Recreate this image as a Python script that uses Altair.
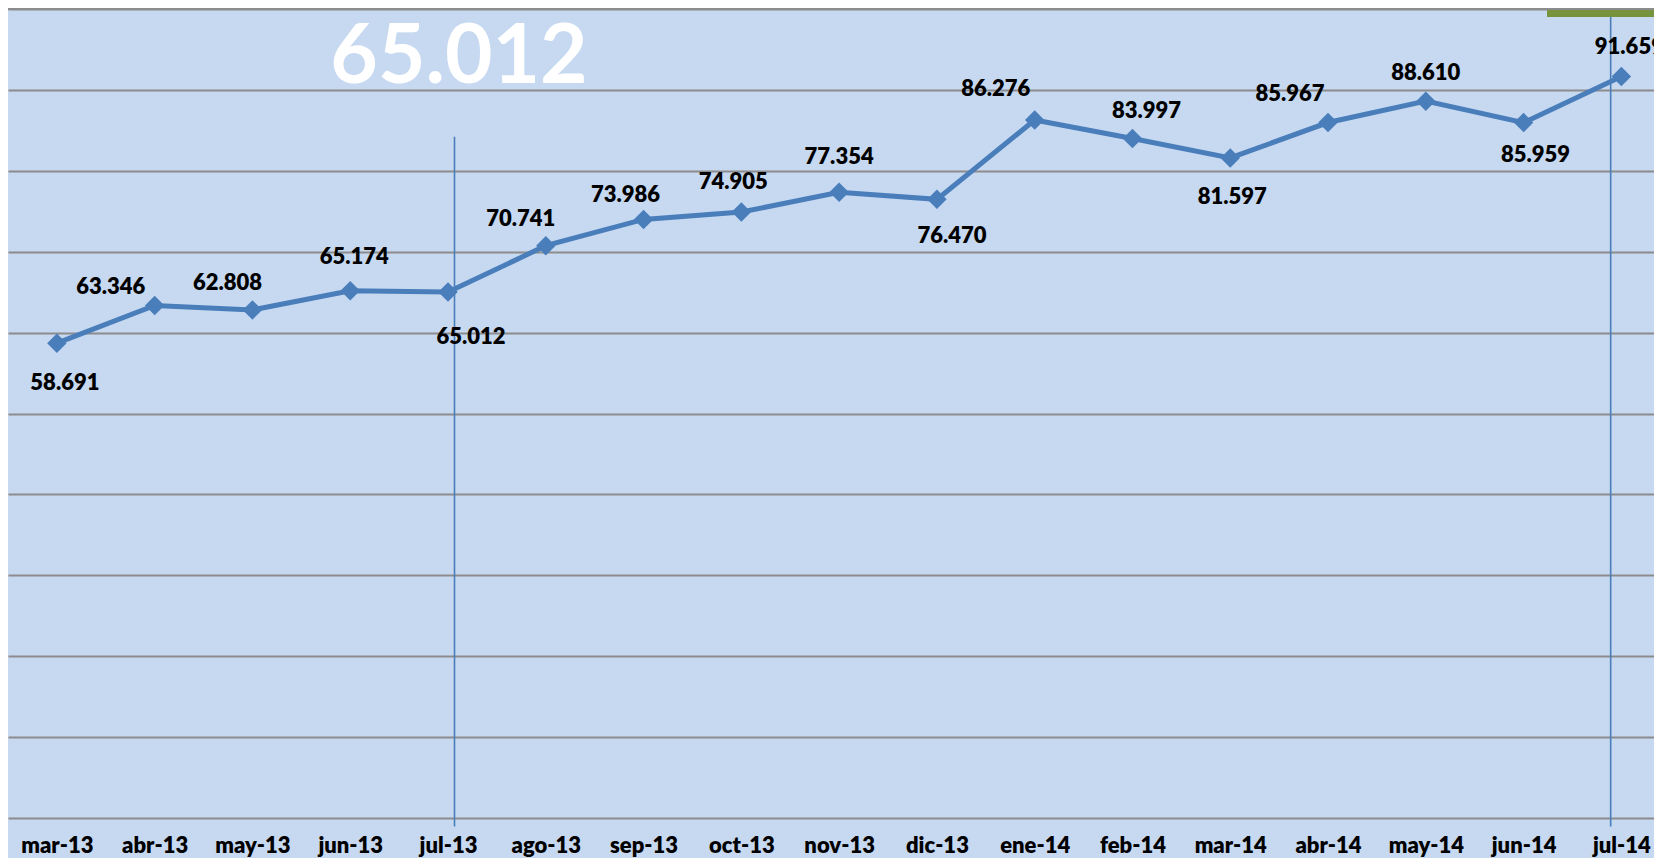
import json
import altair as alt
import pandas as pd

# ---- data ----
months = ["mar-13", "abr-13", "may-13", "jun-13", "jul-13", "ago-13", "sep-13",
          "oct-13", "nov-13", "dic-13", "ene-14", "feb-14", "mar-14", "abr-14",
          "may-14", "jun-14", "jul-14"]
values = [58691, 63346, 62808, 65174, 65012, 70741, 73986, 74905, 77354,
          76470, 86276, 83997, 81597, 85967, 88610, 85959, 91659]
y_ticks = list(range(0, 100001, 10000))
highlight_month = "jul-13"
latest_month = "jul-14"
highlight_top = 84200  # where the jul-13 marker line starts

# ---- styling: per-label pixel nudges (as placed in the original) ----
label_dx = [8, -44, -25, 4, 23, -25, -18, -8, 0, 15, -39, 14, 2, -38, 0, 12, 8]
label_dy = [40, -19, -27, -34, 45, -27, -24, -30, -35, 37, -31, -27, 39, -29, -28, 32, -29]

W, H = 1646, 809
STEP = 97.78
BG = "#C6D9F1"
LINE = "#4A7EBB"
GRID = "#8C8C8C"
FONT = "Lato"

df = pd.DataFrame({
    "idx": list(range(len(months))),
    "month": months,
    "value": values,
    "label": [f"{v:,}".replace(",", ".") for v in values],
})

xscale = alt.Scale(domain=[-0.5, W / STEP - 0.5], nice=False, zero=False)
yscale = alt.Scale(domain=[0, 100000], nice=False, zero=True)

xaxis = alt.Axis(
    values=list(range(len(months))),
    labelExpr=f"{json.dumps(months)}[datum.value]",
    grid=False, domain=False, ticks=False, tickSize=0,
    labelFont=FONT, labelFontWeight=800, labelFontSize=22, labelColor="black",
    labelPadding=34, labelBaseline="alphabetic", labelAlign="center",
    labelOverlap=False, labelFlush=False, labelBound=False, title=None,
)
yaxis = alt.Axis(
    values=y_ticks, grid=True, gridColor=GRID, gridWidth=2,
    labels=False, ticks=False, domain=False, title=None,
)

X = alt.X("idx:Q", scale=xscale, axis=xaxis)
Y = alt.Y("value:Q", scale=yscale, axis=yaxis)

base = alt.Chart(df)

line = base.mark_line(color=LINE, strokeWidth=5).encode(x=X, y=Y)
points = base.mark_point(shape="diamond", filled=True, size=380, color=LINE,
                         opacity=1).encode(x=X, y=Y)

hl_idx = months.index(highlight_month)
last_idx = months.index(latest_month)
rules_df = pd.DataFrame({"idx": [hl_idx], "value": [highlight_top]})

rule_hl = alt.Chart(rules_df).mark_rule(
    color=LINE, strokeWidth=1.6, xOffset=6.5, y2Offset=8.5
).encode(x=X, y=Y, y2=alt.datum(0))

rule_last = alt.Chart(pd.DataFrame({"idx": [last_idx], "value": [100000]})).mark_rule(
    color=LINE, strokeWidth=1.6, xOffset=-10.7, y2Offset=8.5
).encode(x=X, y=Y, y2=alt.datum(0))

big_text = base.transform_filter(alt.datum.month == highlight_month).mark_text(
    font=FONT, fontWeight="bold", fontSize=82, color="white",
    align="center", baseline="alphabetic", dx=11, dy=74,
).encode(x=X, y=alt.datum(100000), text="label:N")

green = alt.Chart(pd.DataFrame({"k": [0]})).mark_rect(color="#77933C").encode(
    x=alt.value(1539), x2=alt.value(W), y=alt.value(0), y2=alt.value(8)
)
top_grid = alt.Chart(pd.DataFrame({"value": [100000]})).mark_rule(
    color=GRID, strokeWidth=2
).encode(y=Y)

label_layers = []
for i in range(len(months)):
    label_layers.append(
        base.transform_filter(alt.datum.idx == i).mark_text(
            font=FONT, fontWeight=800, fontSize=22, color="black",
            align="center", baseline="middle", dx=label_dx[i], dy=label_dy[i],
        ).encode(x=X, y=Y, text="label:N")
    )

chart = alt.layer(
    line, points, rule_hl, rule_last, big_text, green, top_grid, *label_layers
).properties(
    width=W, height=H,
    autosize=alt.AutoSizeParams(type="none"),
    padding={"left": 0, "top": 1, "right": 0, "bottom": 40},
    background=BG,
).configure_view(strokeWidth=0)

chart.save("out.html", embed_options={"renderer": "svg", "actions": False})
